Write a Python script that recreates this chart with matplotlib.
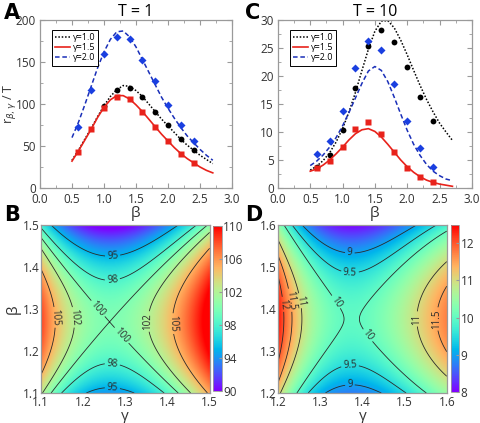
import numpy as np
import matplotlib
matplotlib.use("Agg")
import matplotlib.pyplot as plt
from matplotlib.ticker import MultipleLocator

plt.rcParams['font.family'] = ['Open Sans', 'DejaVu Sans']
plt.rcParams['mathtext.fontset'] = 'dejavusans'

# ---- panel A / C data (T = 1 and T = 10) ----
beta_pts = [0.6, 0.8, 1.0, 1.2, 1.4, 1.6, 1.8, 2.0, 2.2, 2.4]
beta_fit = [0.5, 0.6, 0.7, 0.8, 0.9, 1.0, 1.1, 1.2, 1.3, 1.4, 1.5, 1.6,
            1.7, 1.8, 1.9, 2.0, 2.1, 2.2, 2.3, 2.4, 2.5, 2.6, 2.7]

# T = 1
t1_g10_pts = [None, None, 98, 117, 119, 108, 91, 75, 58, 45]
t1_g15_pts = [43, 70, 95, 108, 106, 91, 73, 56, 41, 30]
t1_g20_pts = [73, 117, 159, 180, 177, 153, 127, 99, 75, 56]
t1_g10_fit = [33, 45, 58, 71, 85, 98, 109, 117, 122, 121, 116, 109,
              100, 91, 82, 74, 66, 58, 51, 45, 39, 34, 29]
t1_g15_fit = [32, 44, 57, 70, 84, 96, 105, 110, 110, 106, 99, 91,
              82, 73, 64, 56, 48, 41, 35, 30, 25, 21, 18]
t1_g20_fit = [60, 78, 99, 121, 143, 162, 177, 186, 187, 180, 168, 153,
              138, 123, 108, 95, 83, 72, 62, 54, 46, 39, 33]

# T = 10
t10_g10_pts = [3.8, 5.9, 10.3, 17.9, 25.4, 28.3, 26.0, 21.6, 16.3, 12.0]
t10_g15_pts = [3.6, 4.9, 7.4, 10.6, 11.8, 9.7, 6.5, 3.6, 2.0, 1.0]
t10_g20_pts = [6.0, 8.4, 13.8, 21.4, 26.3, 24.6, 18.6, 11.9, 7.1, 3.8]
t10_g10_fit = [3.2, 3.9, 4.9, 6.3, 8.2, 10.6, 13.6, 17.1, 21.0, 24.8, 28.0, 29.8,
               29.9, 28.6, 26.4, 23.8, 21.0, 18.3, 15.8, 13.6, 11.6, 10.0, 8.5]
t10_g15_fit = [3.0, 3.4, 4.1, 5.0, 6.1, 7.3, 8.6, 9.7, 10.4, 10.6, 10.1, 9.1,
               7.8, 6.4, 5.0, 3.8, 2.8, 2.0, 1.4, 1.0, 0.7, 0.5, 0.3]
t10_g20_fit = [4.0, 4.8, 5.9, 7.3, 9.0, 11.1, 13.5, 16.1, 18.7, 20.9, 21.7, 21.0,
               19.0, 16.2, 13.2, 10.3, 7.8, 5.8, 4.2, 3.0, 2.2, 1.6, 1.3]

labels = ['γ=1.0', 'γ=1.5', 'γ=2.0']

# ---- panel B / D saddle surfaces (fitted from the contours) ----
B_gamma_range = [1.1, 1.5]
B_beta_range = [1.1, 1.5]
B_saddle = [1.263, 1.269, 100.0]      # gamma0, beta0, value
B_coef = [267.0, -280.0, 205.0]       # d^2, d^3, e^2
B_levels = [95, 98, 100, 102, 105]
B_ticks = [90, 94, 98, 102, 106, 110]
B_label_pos = [(1.27, 1.43), (1.27, 1.365), (1.235, 1.30), (1.295, 1.24),
               (1.18, 1.28), (1.354, 1.27), (1.137, 1.28), (1.417, 1.265),
               (1.27, 1.174), (1.27, 1.117)]

D_gamma_range = [1.2, 1.6]
D_beta_range = [1.2, 1.6]
D_saddle = [1.374, 1.376, 9.98]
D_coef = [60.0, -112.8, 40.0]
D_levels = [9, 9.5, 10, 11, 11.5, 12]
D_ticks = [8, 9, 10, 11, 12]
D_label_pos = [(1.37, 1.537), (1.37, 1.483), (1.335, 1.415), (1.41, 1.335),
               (1.256, 1.42), (1.225, 1.42), (1.204, 1.41), (1.529, 1.376),
               (1.571, 1.376), (1.37, 1.269), (1.37, 1.22)]

fig = plt.figure(figsize=(4.8, 4.23), dpi=100)

grey = '#9a9a9a'
txt = '#333333'


def style_axes(ax):
    for s in ax.spines.values():
        s.set_color(grey)
        s.set_linewidth(0.9)
    ax.tick_params(which='both', direction='in', top=True, right=True,
                   color=grey, labelcolor=txt, labelsize=8.5, pad=2)
    ax.tick_params(which='major', length=3.5)
    ax.tick_params(which='minor', length=2)


def line_panel(rect, pts, fits, ylim, ymajor, yminor, title):
    ax = fig.add_axes(rect)
    styles = [dict(color='black', ls=(0, (1, 1.2)), lw=1.1),
              dict(color='#e8221b', ls='-', lw=1.2),
              dict(color='#1a2fb8', ls=(0, (3, 1.8)), lw=1.1)]
    marks = [dict(marker='o', color='black', ms=4.2),
             dict(marker='s', color='#e8221b', ms=4),
             dict(marker='D', color='#1a3fe0', ms=3.6)]
    for p, f, st, mk, lab in zip(pts, fits, styles, marks, labels):
        ax.plot(beta_fit, f, label=lab, **st)
        xs = [b for b, v in zip(beta_pts, p) if v is not None]
        ys = [v for v in p if v is not None]
        ax.plot(xs, ys, ls='none', mec='none', **mk)
    ax.set_xlim(0, 3)
    ax.set_ylim(*ylim)
    ax.xaxis.set_major_locator(MultipleLocator(0.5))
    ax.xaxis.set_minor_locator(MultipleLocator(0.25))
    ax.yaxis.set_major_locator(MultipleLocator(ymajor))
    ax.yaxis.set_minor_locator(MultipleLocator(yminor))
    ax.set_xticks(ax.get_xticks())
    ax.set_xticklabels(['%.1f' % v for v in ax.get_xticks()])
    ax.set_xlim(0, 3)
    ax.set_xlabel('β', fontsize=11, labelpad=0, color=txt)
    ax.set_title(title, fontsize=11.5, pad=3)
    style_axes(ax)
    ax.tick_params(axis='y', pad=3)
    ax.tick_params(axis='x', pad=3.5)
    leg = ax.legend(loc='upper left', bbox_to_anchor=(0.04, 0.97), fontsize=6.5,
                    handlelength=1.6, handletextpad=0.3, borderpad=0.35,
                    labelspacing=0.15, fancybox=False, framealpha=1)
    leg.get_frame().set_edgecolor('black')
    leg.get_frame().set_linewidth(0.7)
    return ax


axA = line_panel([0.0833, 0.5556, 0.40, 0.397],
                 [t1_g10_pts, t1_g15_pts, t1_g20_pts],
                 [t1_g10_fit, t1_g15_fit, t1_g20_fit],
                 (0, 200), 50, 25, 'T = 1')
axA.set_ylabel(r'r$_{\beta,\gamma}$ / T', fontsize=9, color=txt)
axA.yaxis.set_label_coords(-0.115, 0.5)

axC = line_panel([0.579, 0.5556, 0.404, 0.397],
                 [t10_g10_pts, t10_g15_pts, t10_g20_pts],
                 [t10_g10_fit, t10_g15_fit, t10_g20_fit],
                 (0, 30), 5, 2.5, 'T = 10')


def map_panel(rect, crect, grng, brng, saddle, coef, levels, ticks, vmax, lpos):
    g = np.linspace(grng[0], grng[1], 300)
    b = np.linspace(brng[0], brng[1], 300)
    G, Bt = np.meshgrid(g, b)
    d = G - saddle[0]
    e = Bt - saddle[1]
    Z = saddle[2] + coef[0] * d ** 2 + coef[1] * d ** 3 - coef[2] * e ** 2
    ax = fig.add_axes(rect)
    im = ax.imshow(Z, origin='lower', extent=[grng[0], grng[1], brng[0], brng[1]],
                   aspect='auto', cmap='rainbow', vmin=ticks[0], vmax=vmax,
                   interpolation='bilinear')
    cs = ax.contour(G, Bt, Z, levels=levels, colors='#2a2a2a', linewidths=0.6)
    ax.clabel(cs, fmt='%g', fontsize=7, inline=True, inline_spacing=2, manual=lpos)
    ax.xaxis.set_major_locator(MultipleLocator(0.1))
    ax.yaxis.set_major_locator(MultipleLocator(0.1))
    ax.set_xlabel('γ', fontsize=11, labelpad=0, color=txt)
    style_axes(ax)
    ax.tick_params(which='both', length=0, pad=1)
    ax.tick_params(axis='x', pad=2.5)
    cax = fig.add_axes(crect)
    cb = fig.colorbar(im, cax=cax, ticks=ticks)
    cb.outline.set_edgecolor(grey)
    cb.outline.set_linewidth(0.6)
    cax.tick_params(direction='in', length=2.5, color=grey, labelcolor=txt,
                    labelsize=8.5, pad=1)
    return ax


axB = map_panel([0.0848, 0.0709, 0.352, 0.398], [0.443, 0.0757, 0.019, 0.39],
                B_gamma_range, B_beta_range, B_saddle, B_coef, B_levels, B_ticks,
                110, B_label_pos)
axB.set_ylabel('β', fontsize=11, labelpad=1, color=txt)

axD = map_panel([0.5798, 0.0709, 0.351, 0.398], [0.939, 0.0733, 0.0173, 0.3955],
                D_gamma_range, D_beta_range, D_saddle, D_coef, D_levels, D_ticks,
                12.5, D_label_pos)

for lab, x, y in [('A', 0.008, 0.955), ('C', 0.51, 0.955),
                  ('B', 0.008, 0.478), ('D', 0.51, 0.478)]:
    fig.text(x, y, lab, fontsize=15, fontweight='bold', family='DejaVu Sans')

fig.savefig('out.png', dpi=100)
